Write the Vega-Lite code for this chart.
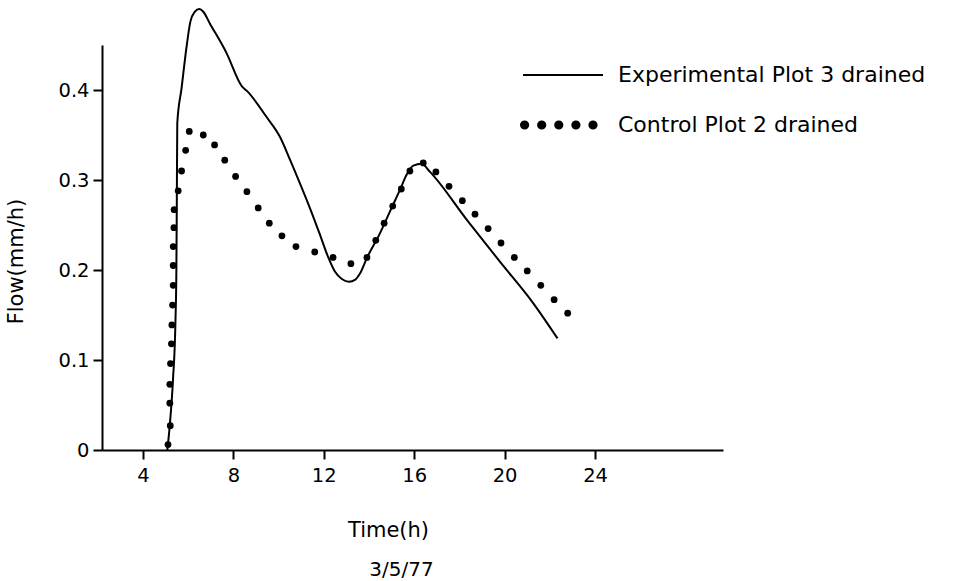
{
  "$schema": "https://vega.github.io/schema/vega-lite/v6.json",
  "width": 621,
  "height": 405,
  "autosize": "none",
  "padding": {"left": 102, "top": 45, "right": 237, "bottom": 131},
  "background": "white",
  "config": {
    "view": {"stroke": null},
    "font": "DejaVu Sans",
    "axis": {"grid": false, "domainColor": "black", "domainWidth": 2, "tickColor": "black", "tickWidth": 2, "tickSize": 9, "labelColor": "black", "labelFont": "DejaVu Sans", "labelFontSize": 19.5, "titleFont": "DejaVu Sans", "titleFontSize": 21, "titleFontWeight": "normal", "titleColor": "black"}
  },
  "title": {"text": "3/5/77", "orient": "bottom", "anchor": "middle", "dx": -11, "offset": 20, "fontSize": 20, "fontWeight": "normal", "font": "DejaVu Sans", "color": "black"},
  "datasets": {
    "exp": [
      {"t": 5.08, "f": 0.000}, {"t": 5.19, "f": 0.028}, {"t": 5.33, "f": 0.078}, {"t": 5.44, "f": 0.144},
      {"t": 5.48, "f": 0.200}, {"t": 5.50, "f": 0.278}, {"t": 5.52, "f": 0.363}, {"t": 5.71, "f": 0.402},
      {"t": 5.93, "f": 0.448}, {"t": 6.10, "f": 0.476}, {"t": 6.30, "f": 0.487}, {"t": 6.49, "f": 0.490},
      {"t": 6.67, "f": 0.487}, {"t": 6.96, "f": 0.474}, {"t": 7.70, "f": 0.441}, {"t": 8.38, "f": 0.404},
      {"t": 8.60, "f": 0.399}, {"t": 9.47, "f": 0.370}, {"t": 10.06, "f": 0.348}, {"t": 10.50, "f": 0.323},
      {"t": 10.95, "f": 0.296}, {"t": 11.40, "f": 0.268}, {"t": 11.85, "f": 0.238}, {"t": 12.20, "f": 0.214},
      {"t": 12.50, "f": 0.198}, {"t": 12.80, "f": 0.190}, {"t": 13.12, "f": 0.187}, {"t": 13.38, "f": 0.189},
      {"t": 13.60, "f": 0.196}, {"t": 13.90, "f": 0.213}, {"t": 14.49, "f": 0.241}, {"t": 15.00, "f": 0.269},
      {"t": 15.37, "f": 0.289}, {"t": 15.67, "f": 0.306}, {"t": 15.96, "f": 0.316}, {"t": 16.33, "f": 0.318},
      {"t": 16.70, "f": 0.309}, {"t": 18.32, "f": 0.256}, {"t": 19.80, "f": 0.209}, {"t": 21.27, "f": 0.163},
      {"t": 22.34, "f": 0.124}
    ],
    "ctrl": [
      {"t": 5.11, "f": 0.006}, {"t": 5.21, "f": 0.027}, {"t": 5.19, "f": 0.052}, {"t": 5.19, "f": 0.073},
      {"t": 5.22, "f": 0.096}, {"t": 5.26, "f": 0.118}, {"t": 5.28, "f": 0.139}, {"t": 5.31, "f": 0.161},
      {"t": 5.34, "f": 0.183}, {"t": 5.34, "f": 0.205}, {"t": 5.34, "f": 0.226}, {"t": 5.37, "f": 0.247},
      {"t": 5.38, "f": 0.267}, {"t": 5.56, "f": 0.288}, {"t": 5.71, "f": 0.310}, {"t": 5.89, "f": 0.333},
      {"t": 6.05, "f": 0.354}, {"t": 6.67, "f": 0.350}, {"t": 7.17, "f": 0.339}, {"t": 7.62, "f": 0.322},
      {"t": 8.10, "f": 0.304}, {"t": 8.60, "f": 0.287}, {"t": 9.10, "f": 0.269}, {"t": 9.59, "f": 0.252},
      {"t": 10.15, "f": 0.238}, {"t": 10.77, "f": 0.226}, {"t": 11.60, "f": 0.220}, {"t": 12.41, "f": 0.214},
      {"t": 13.20, "f": 0.207}, {"t": 13.91, "f": 0.214}, {"t": 14.30, "f": 0.233}, {"t": 14.67, "f": 0.252},
      {"t": 15.05, "f": 0.271}, {"t": 15.43, "f": 0.290}, {"t": 15.81, "f": 0.310}, {"t": 16.40, "f": 0.319},
      {"t": 16.96, "f": 0.309}, {"t": 17.54, "f": 0.293}, {"t": 18.13, "f": 0.277}, {"t": 18.69, "f": 0.262},
      {"t": 19.27, "f": 0.246}, {"t": 19.84, "f": 0.230}, {"t": 20.43, "f": 0.214}, {"t": 21.00, "f": 0.199},
      {"t": 21.60, "f": 0.183}, {"t": 22.19, "f": 0.167}, {"t": 22.79, "f": 0.152}
    ]
  },
  "encoding": {
    "x": {"field": "t", "type": "quantitative", "scale": {"domain": [2.19, 29.66], "nice": false, "zero": false},
      "axis": {"values": [4, 8, 12, 16, 20, 24], "title": "Time(h)", "labelPadding": 7, "titleX": 286, "titleY": 80, "titleAlign": "center", "titleBaseline": "middle"}},
    "y": {"field": "f", "type": "quantitative", "scale": {"domain": [0, 0.45], "nice": false},
      "axis": {"values": [0, 0.1, 0.2, 0.3, 0.4], "labelExpr": "datum.value == 0 ? '0' : format(datum.value, '.1f')", "title": "Flow(mm/h)", "labelPadding": 4, "titleX": -86, "titleY": 216, "titleAlign": "center", "titleBaseline": "middle", "titleAngle": -90}},
    "color": {"field": "series", "type": "nominal",
      "scale": {"domain": ["Experimental Plot 3 drained", "Control Plot 2 drained"], "range": ["black", "black"]},
      "legend": {"title": null, "orient": "none", "legendX": 450, "legendY": 19, "padding": 0, "symbolSize": 400, "labelOffset": 44, "rowPadding": 28, "labelFontSize": 22, "labelFont": "DejaVu Sans", "labelColor": "black", "labelLimit": 500,
        "encode": {"symbols": {"update": {
          "shape": {"signal": "datum.value === 'Control Plot 2 drained' ? 'M-4.2,0a0.36,0.36 0 1,0 0.72,0a0.36,0.36 0 1,0 -0.72,0M-2.49,0a0.36,0.36 0 1,0 0.72,0a0.36,0.36 0 1,0 -0.72,0M-0.78,0a0.36,0.36 0 1,0 0.72,0a0.36,0.36 0 1,0 -0.72,0M0.93,0a0.36,0.36 0 1,0 0.72,0a0.36,0.36 0 1,0 -0.72,0M2.64,0a0.36,0.36 0 1,0 0.72,0a0.36,0.36 0 1,0 -0.72,0' : 'M-4,0H4'"},
          "fill": {"signal": "datum.value === 'Control Plot 2 drained' ? 'black' : 'transparent'"},
          "stroke": {"signal": "datum.value === 'Control Plot 2 drained' ? 'transparent' : 'black'"},
          "strokeWidth": {"value": 2},
          "opacity": {"value": 1},
          "fillOpacity": {"value": 1},
          "strokeOpacity": {"value": 1}
        }}}}
    }
  },
  "layer": [
    {
      "data": {"name": "exp"},
      "transform": [{"calculate": "'Experimental Plot 3 drained'", "as": "series"}],
      "mark": {"type": "line", "interpolate": "monotone", "strokeWidth": 2, "clip": false},
      "encoding": {"order": {"field": "t", "type": "quantitative"}}
    },
    {
      "data": {"name": "ctrl"},
      "transform": [{"calculate": "'Control Plot 2 drained'", "as": "series"}],
      "mark": {"type": "point", "filled": true, "size": 46, "opacity": 1, "clip": false},
      "encoding": {}
    }
  ]
}
